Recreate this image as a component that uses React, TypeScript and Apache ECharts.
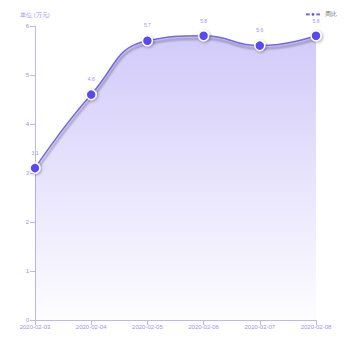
import React, { useEffect, useRef } from "react";
import * as echarts from "echarts";

const categories = ["2020-02-03", "2020-02-04", "2020-02-05", "2020-02-06", "2020-02-07", "2020-02-08"];
const values = [3.1, 4.6, 5.7, 5.8, 5.6, 5.8];
const seriesName = "周比";
const yAxisName = "单位 (万元)";

export default function App() {
  const ref = useRef<HTMLDivElement>(null);
  useEffect(() => {
    const chart = echarts.init(ref.current!, null, { renderer: "svg" });
    const axisColor = "#c0b6f7";
    const labelColor = "#9d92f0";
    chart.setOption({
      animation: false,
      legend: {
        right: 8,
        top: 6,
        itemWidth: 14,
        itemHeight: 6,
        itemGap: 4,
        textStyle: { fontSize: 6, color: "#666" },
        data: [seriesName],
      },
      grid: { left: 35, right: 34, top: 26, bottom: 30 },
      xAxis: {
        type: "category",
        boundaryGap: false,
        data: categories,
        axisLine: { lineStyle: { color: axisColor } },
        axisTick: { lineStyle: { color: axisColor } },
        axisLabel: { fontSize: 6, color: labelColor, margin: 4 },
      },
      yAxis: {
        type: "value",
        min: 0,
        max: 6,
        interval: 1,
        name: yAxisName,
        nameTextStyle: { fontSize: 6, color: labelColor, align: "center" },
        nameGap: 8,
        axisLine: { show: true, lineStyle: { color: axisColor } },
        axisTick: { show: true, lineStyle: { color: axisColor } },
        splitLine: { show: false },
        axisLabel: { fontSize: 6, color: labelColor, margin: 6 },
      },
      series: [
        {
          name: seriesName,
          type: "line",
          smooth: true,
          data: values,
          symbol: "circle",
          symbolSize: 10,
          itemStyle: {
            color: "#5a48f0",
            borderColor: "#fff",
            borderWidth: 1.5,
            shadowColor: "rgba(0,0,0,0.35)",
            shadowBlur: 3,
            shadowOffsetX: 1,
            shadowOffsetY: 1,
          },
          lineStyle: {
            color: "#7566f2",
            width: 1.5,
            shadowColor: "rgba(0,0,0,0.4)",
            shadowBlur: 2,
            shadowOffsetX: 1,
            shadowOffsetY: 3,
          },
          label: { show: true, position: "top", fontSize: 5, color: "#9d92f0", distance: 7 },
          areaStyle: {
            color: new echarts.graphic.LinearGradient(0, 0, 0, 1, [
              { offset: 0, color: "rgba(125,105,240,0.5)" },
              { offset: 1, color: "rgba(125,105,240,0.02)" },
            ]),
          },
        },
      ],
    });
    return () => chart.dispose();
  }, []);
  return <div ref={ref} style={{ width: 350, height: 350, position: "absolute", left: 0, top: 0 }} />;
}
